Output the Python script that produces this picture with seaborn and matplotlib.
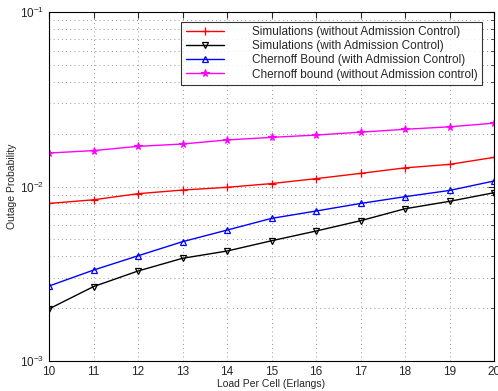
import matplotlib
matplotlib.use("Agg")
from matplotlib import pyplot as plt
from matplotlib.ticker import LogLocator, NullFormatter, FixedLocator
import seaborn as sns
import pandas as pd

load = [10, 11, 12, 13, 14, 15, 16, 17, 18, 19, 20]
sim_without = [0.0080, 0.0084, 0.0091, 0.00955, 0.0099, 0.0104, 0.0111, 0.0119, 0.0128, 0.0134, 0.0147]
sim_with = [0.00199, 0.00267, 0.00328, 0.00388, 0.00427, 0.00489, 0.00556, 0.00637, 0.00746, 0.00823, 0.00922]
chernoff_with = [0.00269, 0.00332, 0.00401, 0.00483, 0.00563, 0.00657, 0.00724, 0.0080, 0.00875, 0.0095, 0.01076]
chernoff_without = [0.01557, 0.01607, 0.0170, 0.01754, 0.0185, 0.01914, 0.01974, 0.0205, 0.0213, 0.0220, 0.0231]

labels = ["Simulations (without Admission Control)",
          "Simulations (with Admission Control)",
          "Chernoff Bound (with Admission Control)",
          "Chernoff bound (without Admission control)"]

sns.set_style("white")
plt.rcParams['font.family'] = ['Liberation Sans', 'DejaVu Sans']

fig = plt.figure(figsize=(4.98, 3.91), dpi=100)
ax = fig.add_axes([0.0984, 0.0767, 0.8936, 0.8923])

series = [
    (sim_without, "red", dict(marker="+", markersize=5.5, markeredgewidth=0.9)),
    (sim_with, "black", dict(marker="v", markersize=4.5, markerfacecolor="none", markeredgewidth=0.9)),
    (chernoff_with, "blue", dict(marker="^", markersize=4.5, markerfacecolor="none", markeredgewidth=0.9)),
    (chernoff_without, "magenta", dict(marker="*", markersize=5.5, markeredgewidth=0.8)),
]
for (vals, col, mk), lab in zip(series, labels):
    df = pd.DataFrame({"load": load, "p": vals})
    sns.lineplot(data=df, x="load", y="p", color=col, linewidth=1.0,
                 markeredgecolor=col, label=lab, ax=ax, **mk)

ax.set_yscale("log")
ax.set_xlim(10, 20)
ax.set_ylim(1e-3, 1e-1)
ax.xaxis.set_major_locator(FixedLocator(load))
ax.yaxis.set_major_locator(LogLocator(base=10, numticks=5))
ax.yaxis.set_minor_locator(LogLocator(base=10, subs=range(2, 10), numticks=20))
ax.yaxis.set_minor_formatter(NullFormatter())

ax.grid(True, which="major", axis="both", linestyle=(0, (1, 4)), color="#777777", linewidth=0.6)
ax.grid(True, which="minor", axis="y", linestyle=(0, (1, 4)), color="#777777", linewidth=0.6)

ax.tick_params(axis="both", which="both", direction="in", top=True, right=True, labelsize=8.5)
ax.tick_params(which="major", length=4)
ax.tick_params(which="minor", length=2)
for s in ax.spines.values():
    s.set_linewidth(0.8)
    s.set_color("black")

ax.set_xlabel("Load Per Cell (Erlangs)", fontsize=7.5, labelpad=1)
ax.set_ylabel("Outage Probability", fontsize=7.5, labelpad=2)

leg = ax.legend(loc="upper right", bbox_to_anchor=(0.9865, 0.99), fontsize=8.5,
                frameon=True, fancybox=False, edgecolor="black",
                handlelength=3.3, handletextpad=2.3, borderpad=0.4,
                labelspacing=0.18, numpoints=1)
leg.get_frame().set_linewidth(0.8)

fig.savefig("out.png", dpi=100)
